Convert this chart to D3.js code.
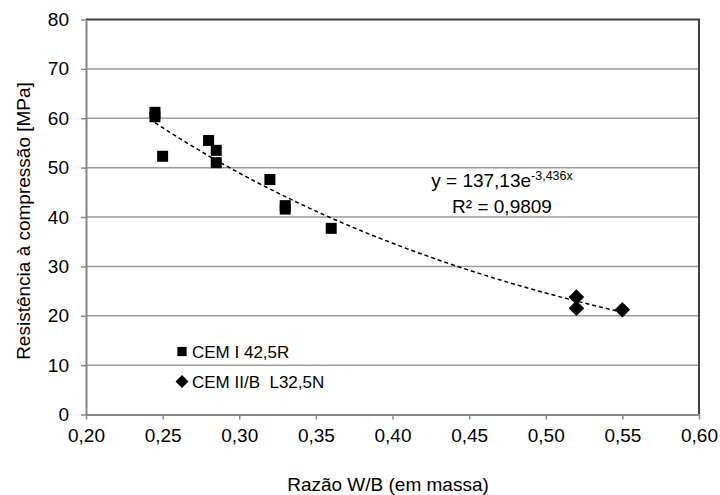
<!DOCTYPE html>
<html>
<head>
<meta charset="utf-8">
<script src="https://cdnjs.cloudflare.com/ajax/libs/d3/7.8.5/d3.min.js"></script>
<style>
  body { margin: 0; background: #fff; }
  svg text { font-family: "Liberation Sans", Arial, sans-serif; fill: #000; }
</style>
</head>
<body>
<div id="chart"></div>
<script>
// CEM I 42,5R (squares)
var cem1X = [0.245, 0.245, 0.25, 0.28, 0.285, 0.285, 0.32, 0.33, 0.33, 0.36];
var cem1Y = [61.2, 60.3, 52.3, 55.5, 53.5, 51.0, 47.6, 42.3, 41.6, 37.7];
// CEM II/B L32,5N (diamonds)
var cem2X = [0.52, 0.52, 0.55];
var cem2Y = [23.8, 21.5, 21.2];

var xTicks = [0.20, 0.25, 0.30, 0.35, 0.40, 0.45, 0.50, 0.55, 0.60];
var yTicks = [0, 10, 20, 30, 40, 50, 60, 70, 80];
var seriesNames = ["CEM I 42,5R", "CEM II/B  L32,5N"];

// trendline y = a * e^(b x), as printed on the chart
var trendA = 137.13, trendB = -3.436;
var trendRange = [0.245, 0.55];

var width = 720, height = 495;
var margin = { top: 19.5, right: 21, bottom: 80.5, left: 86 };
var innerWidth = width - margin.left - margin.right,
    innerHeight = height - margin.top - margin.bottom;

var comma = function( v ) { return d3.format( ".2f" )( v ).replace( ".", "," ); };

var svg = d3.select( "#chart" ).append( "svg" )
  .attr( "width", width )
  .attr( "height", height );

var g = svg.append( "g" )
  .attr( "transform", "translate(" + margin.left + "," + margin.top + ")" );

var xScale = d3.scaleLinear().domain( [ 0.2, 0.6 ] ).range( [ 0, innerWidth ] );
var yScale = d3.scaleLinear().domain( [ 0, 80 ] ).range( [ innerHeight, 0 ] );

// gridlines
g.selectAll( ".grid" )
  .data( yTicks.filter( function( d ) { return d > 0 && d < 80; } ) )
  .enter().append( "line" )
    .attr( "x1", 0 ).attr( "x2", innerWidth )
    .attr( "y1", yScale ).attr( "y2", yScale )
    .attr( "stroke", "#9a9a9a" )
    .attr( "stroke-width", 1.5 );

// top and right border
g.append( "path" )
  .attr( "d", "M0," + yScale( 80 ) + "H" + innerWidth + "V" + innerHeight )
  .attr( "fill", "none" )
  .attr( "stroke", "#404040" )
  .attr( "stroke-width", 2 );

// axes
var xAxis = g.append( "g" )
  .attr( "transform", "translate(0," + innerHeight + ")" )
  .call( d3.axisBottom( xScale ).tickValues( xTicks ).tickFormat( comma ).tickSizeInner( 5 ).tickSizeOuter( 0 ) );
var yAxis = g.append( "g" )
  .call( d3.axisLeft( yScale ).tickValues( yTicks ).tickSizeInner( 5 ).tickSizeOuter( 0 ) );

[ xAxis, yAxis ].forEach( function( a ) {
  a.select( ".domain" ).attr( "stroke", "#868686" ).attr( "stroke-width", 2 );
  a.selectAll( ".tick line" ).attr( "stroke", "#868686" ).attr( "stroke-width", 1.5 );
  a.selectAll( ".tick text" )
    .style( "font-family", "'Liberation Sans', Arial, sans-serif" )
    .style( "font-size", "19px" )
    .attr( "fill", "#000" );
} );
xAxis.selectAll( ".tick text" ).attr( "y", 14 ).attr( "dy", "0.71em" );
yAxis.selectAll( ".tick text" ).attr( "x", -17 );

// trendline
var trendData = d3.range( trendRange[ 0 ], trendRange[ 1 ] + 0.0001, 0.005 );
g.append( "path" )
  .datum( trendData )
  .attr( "fill", "none" )
  .attr( "stroke", "#000" )
  .attr( "stroke-width", 1.5 )
  .attr( "stroke-dasharray", "4,3" )
  .attr( "d", d3.line()
    .x( function( d ) { return xScale( d ); } )
    .y( function( d ) { return yScale( trendA * Math.exp( trendB * d ) ); } ) );

// markers
var square = d3.symbol().type( d3.symbolSquare ).size( 121 );

g.selectAll( ".sq" )
  .data( d3.zip( cem1X, cem1Y ) )
  .enter().append( "path" )
    .attr( "d", square )
    .attr( "transform", function( d ) { return "translate(" + xScale( d[ 0 ] ) + "," + yScale( d[ 1 ] ) + ")"; } )
    .attr( "fill", "#000" );

g.selectAll( ".dm" )
  .data( d3.zip( cem2X, cem2Y ) )
  .enter().append( "path" )
    .attr( "d", square )
    .attr( "transform", function( d ) { return "translate(" + xScale( d[ 0 ] ) + "," + yScale( d[ 1 ] ) + ") rotate(45)"; } )
    .attr( "fill", "#000" );

// equation label
var eq = svg.append( "g" ).attr( "transform", "translate(502,0)" );
var line1 = eq.append( "text" )
  .attr( "y", 187 )
  .attr( "text-anchor", "middle" )
  .style( "font-size", "19px" );
line1.append( "tspan" ).text( "y = 137,13e" );
line1.append( "tspan" ).attr( "dy", -7 ).style( "font-size", "12.5px" ).text( "-3,436x" );
eq.append( "text" )
  .attr( "y", 213 )
  .attr( "text-anchor", "middle" )
  .style( "font-size", "19px" )
  .text( "R² = 0,9809" );

// legend
var legend = svg.append( "g" ).attr( "transform", "translate(182,0)" );
var legendSym = d3.symbol().type( d3.symbolSquare ).size( 85 );
legend.append( "path" ).attr( "d", legendSym )
  .attr( "transform", "translate(0,351.5)" ).attr( "fill", "#000" );
legend.append( "path" ).attr( "d", legendSym )
  .attr( "transform", "translate(0,381.5) rotate(45)" ).attr( "fill", "#000" );
legend.selectAll( ".lt" )
  .data( seriesNames )
  .enter().append( "text" )
    .attr( "x", 10 )
    .attr( "y", function( d, i ) { return 357.5 + i * 30; } )
    .style( "font-size", "17px" )
    .style( "white-space", "pre" )
    .attr( "xml:space", "preserve" )
    .text( function( d ) { return d; } );

// axis titles
svg.append( "text" )
  .attr( "x", 388 )
  .attr( "y", 491 )
  .attr( "text-anchor", "middle" )
  .style( "font-size", "19px" )
  .text( "Razão W/B (em massa)" );

svg.append( "text" )
  .attr( "transform", "translate(30,221) rotate(-90)" )
  .attr( "text-anchor", "middle" )
  .style( "font-size", "19px" )
  .text( "Resistência à compressão [MPa]" );
</script>
</body>
</html>
